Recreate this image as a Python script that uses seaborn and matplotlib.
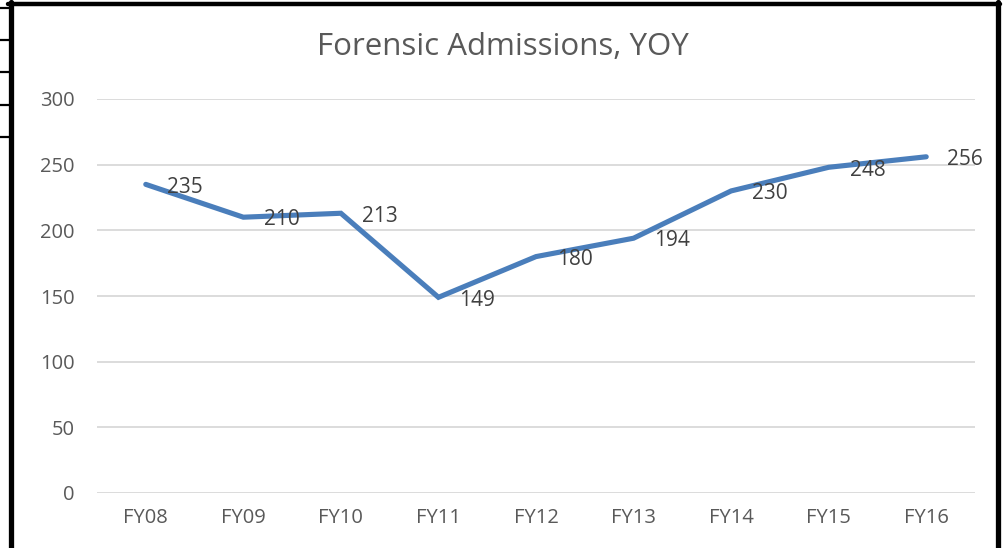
import pandas as pd
import seaborn as sns
import matplotlib.pyplot as plt
from matplotlib.lines import Line2D

# Chart data
years = ['FY08', 'FY09', 'FY10', 'FY11', 'FY12', 'FY13', 'FY14', 'FY15', 'FY16']
admissions = [235, 210, 213, 149, 180, 194, 230, 248, 256]
y_ticks = [0, 50, 100, 150, 200, 250, 300]

df = pd.DataFrame({'year': years, 'admissions': admissions})

sns.set_style('white')
plt.rcParams['font.family'] = ['Open Sans', 'DejaVu Sans']

fig = plt.figure(figsize=(10.06, 5.48), dpi=100)
ax = fig.add_axes([97 / 1006, 1 - 493 / 548, 878 / 1006, 394 / 548])

sns.lineplot(data=df, x='year', y='admissions', ax=ax, color='#4a7ebb',
             linewidth=3.7, solid_joinstyle='miter', solid_capstyle='round', zorder=3)

ax.set_xlim(-0.5, len(years) - 0.5)
ax.set_ylim(0, 300)
ax.set_yticks(y_ticks)
ax.yaxis.grid(True, color='#d9d9d9', linewidth=1.3)
ax.set_axisbelow(True)
for s in ax.spines.values():
    s.set_visible(False)
ax.tick_params(axis='both', length=0, labelsize=14.5, labelcolor='#595959')
ax.tick_params(axis='y', pad=16)
ax.tick_params(axis='x', pad=11)
ax.set_xlabel('')
ax.set_ylabel('')

# value labels to the right of each point
for i, v in enumerate(admissions):
    ax.annotate(str(v), (i, v), xytext=(15, -2), textcoords='offset points',
                ha='left', va='center', fontsize=15, color='#404040', zorder=4)

fig.text(503 / 1006, 1 - 47 / 548, 'Forensic Admissions, YOY', ha='center', va='center',
         fontsize=22.5, color='#595959')

# black frame around the chart
fig.add_artist(Line2D([10.5 / 1006, 10.5 / 1006], [0, 1 - 2 / 548], color='black',
                      linewidth=3.8, transform=fig.transFigure))
fig.add_artist(Line2D([8 / 1006, 1000 / 1006], [1 - 4 / 548, 1 - 4 / 548], color='black',
                      linewidth=3.2, transform=fig.transFigure))
fig.add_artist(Line2D([997.5 / 1006, 997.5 / 1006], [0, 1 - 2 / 548], color='black',
                      linewidth=3.8, transform=fig.transFigure))
# stray table rules at the left edge
for yy in [8, 40, 72, 105, 137]:
    fig.add_artist(Line2D([0, 9 / 1006], [1 - yy / 548, 1 - yy / 548], color='black',
                          linewidth=1.6, transform=fig.transFigure))

fig.savefig('out.png', dpi=100)
